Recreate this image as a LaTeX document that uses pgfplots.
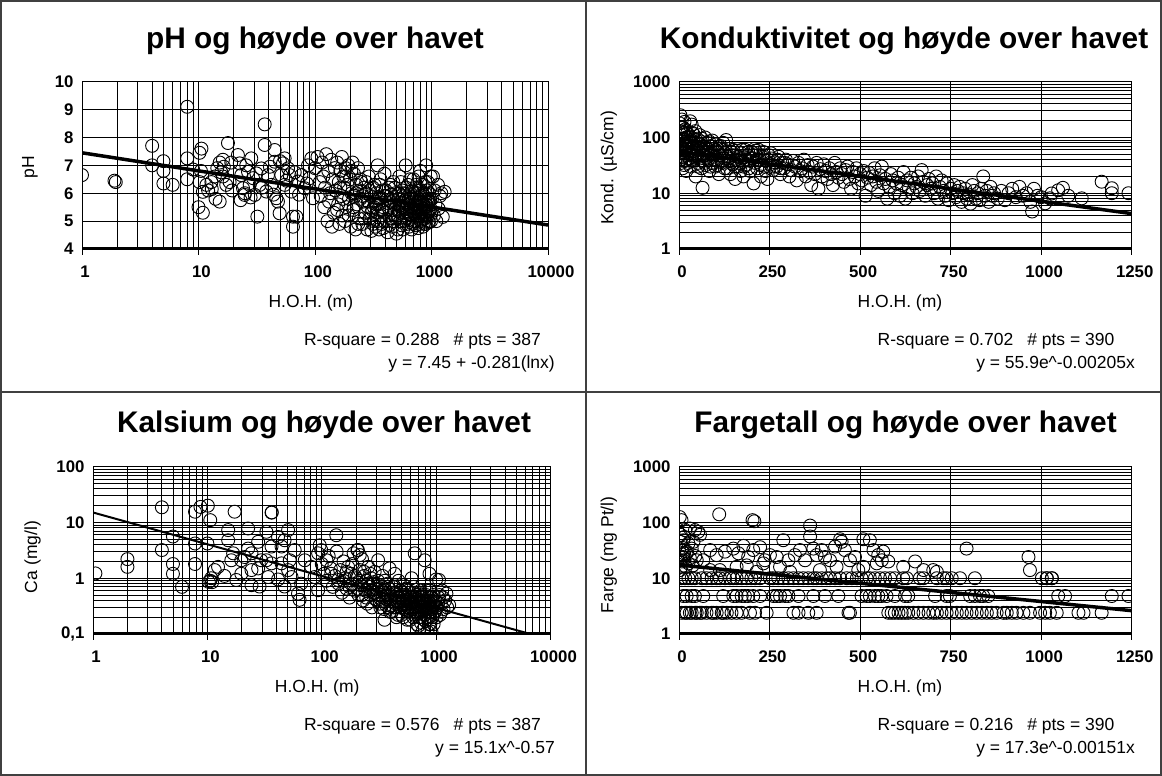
\documentclass[border=0pt]{standalone}
\usepackage{fontspec}
\setmainfont{Liberation Sans}
\usepackage{pgfplots}
\pgfplotsset{compat=1.18}
\newcommand{\tl}[1]{\mbox{\fontsize{16.8}{18}\fontseries{b}\selectfont #1}}

\pgfplotsset{
 panel/.style={
   scale only axis, anchor=south west,
   axis line style={black, line width=1pt},
   major grid style={black, line width=0.8pt},
   minor grid style={black, line width=0.8pt},
   tick pos=left, xtick align=outside,
   major tick length=6pt, minor tick length=0pt,
   xtick style={black, line width=1pt},
   ytick style={draw=none},
   xticklabel style={font=\fontsize{16.8}{18}\fontseries{b}\selectfont, yshift=-7pt, xshift=3pt},
   yticklabel style={font=\fontsize{16.8}{18}\fontseries{b}\selectfont, xshift=-5pt},
   label style={font=\fontsize{17.5}{20}\selectfont},
   xlabel style={anchor=center},
   ylabel style={anchor=center, rotate=0},
   clip marker paths=true,
 },
 dots/.style={only marks, mark=o, mark size=6.5pt, black, mark options={line width=0.9pt}},
 trend/.style={black, line width=3.5pt, no marks},
}
\newcommand{\titlefont}{\bfseries\fontsize{29.8}{34}\selectfont}
\newcommand{\txtfont}{\fontsize{17.5}{20}\selectfont}

\begin{document}
\begin{tikzpicture}
\useasboundingbox (0pt,0pt) rectangle (1162pt,776pt);
\fill[white] (0pt,0pt) rectangle (1162pt,776pt);

% ---------------- Panel 1: pH ----------------
\begin{axis}[panel, name=p1, at={(82pt,527pt)}, width=466pt, height=167.3pt,
  xmode=log, xmin=1, xmax=10000, ymin=4, ymax=10,
  xtick={1,10,100,1000,10000},
  xticklabels={\tl{1},\tl{10},\tl{100},\tl{1000},\tl{10000}},
  minor xtick={2,3,4,5,6,7,8,9,20,30,40,50,60,70,80,90,200,300,400,500,600,700,800,900,2000,3000,4000,5000,6000,7000,8000,9000},
  ytick={4,5,6,7,8,9,10},
  yticklabels={\tl{4},\tl{5},\tl{6},\tl{7},\tl{8},\tl{9},\tl{10}},
  xmajorgrids, xminorgrids, ymajorgrids,
  xlabel={H.O.H. (m)}, ylabel={pH},
  xlabel style={at={(axis description cs:0.491,-0.325)}},
  ylabel style={at={(axis description cs:-0.112,0.49)}, rotate=0},
]
\addplot[dots] coordinates {
(1,6.65)(1.9,6.45)(1.95,6.4)(4,7.7)(4,7.0)(5,7.15)(5,6.8)(5,6.35)(6,6.3)(8,9.1)(8,7.25)(8,6.5)(9,6.85)
(10.2,7.45)(10.6,7.6)(10.5,6.8)(10.2,6.4)(10,5.5)(10.9,5.3)(10.9,6.05)(11.7,6.3)(12.1,6.1)(12.9,6.4)(13.8,6.6)(14.5,6.9)(15.2,7.1)(15.7,6.75)(16.2,7.2)(16.2,6.6)(15.2,5.7)(17.3,6.3)(17.9,7.8)(18.5,6.4)(19.1,7.1)(19.4,6.1)(14,5.8)(16.5,6.95)(13,6.15)
(21.8,7.37)(22.6,7.07)(23.3,6.65)(24.1,6.18)(24.9,5.94)(25.7,7.0)(26.6,6.77)(27.5,6.3)(28.4,7.25)(29.4,6.54)(30.4,5.94)(31.4,6.71)(32,5.16)(33.5,6.3)(34.6,6.89)(37,8.47)(37,7.73)(38.2,6.06)(39.5,6.65)(42.2,6.3)(45.1,7.55)(45.1,7.13)(46.6,5.82)(48.1,5.7)(49.7,5.28)(51.4,6.65)(53.1,7.07)(54.9,7.25)(54.9,6.3)(58.7,6.89)(60.6,6.65)(62.6,6.06)(64.7,5.16)(64.7,4.8)(69.2,5.16)(71.5,6.42)(76.4,6.65)(81.5,6.18)(87.1,7.0)(90,6.54)(93,7.25)(96.1,5.82)(25,6.0)(28,5.85)(35,6.2)(41,6.95)(44,5.95)(50,7.15)(57,6.45)(67,6.75)(73,5.95)(85,6.35)(23,5.75)
(100,6.9)(105,7.3)(110,6.4)(112,5.9)(115,7.1)(118,6.6)(120,5.5)(122,6.2)(125,7.4)(128,5.0)(130,6.8)(132,5.7)(135,6.0)(138,7.2)(140,4.8)(142,6.5)(145,5.3)(148,6.9)
(150,6.1)(155,7.1)(158,5.6)(160,6.4)(162,4.9)(165,6.8)(168,5.9)(170,7.3)(172,5.2)(175,6.6)(178,6.2)(180,5.0)(183,6.9)(186,5.5)(190,6.3)(193,7.0)(196,5.8)(200,6.5)(203,4.8)(206,6.0)(210,7.1)(213,5.4)(216,6.7)(220,5.9)(223,4.7)(226,6.3)(230,5.6)(234,6.9)(238,5.1)(242,6.1)(246,5.8)
(250,6.4)(255,4.9)(260,5.7)(265,6.2)(270,5.3)(275,6.0)(280,4.7)(285,5.5)(290,6.6)(295,5.1)(300,5.9)(305,4.65)(310,5.4)(315,6.2)(320,5.0)(325,5.7)(330,4.8)(335,6.0)(340,5.3)(345,7.0)(350,5.6)(355,4.7)(360,6.3)(365,5.2)(370,5.8)(375,4.9)(380,6.1)(385,5.5)(390,5.0)(395,6.7)
(400,5.3)(410,5.9)(420,4.6)(430,6.2)(440,5.1)(450,5.7)(460,4.8)(470,6.4)(480,5.4)(490,6.0)(500,4.55)(510,5.2)(520,5.8)(530,6.6)(540,5.0)(550,5.5)(560,6.1)(570,4.7)(580,5.3)(590,5.9)(600,7.0)(610,5.1)(620,5.6)(630,6.3)(640,4.8)(650,5.4)(660,6.0)(670,5.2)(680,5.7)(690,4.9)
(700,6.5)(710,5.3)(720,5.8)(730,6.2)(740,5.0)(750,5.5)(760,6.0)(770,4.75)(780,5.2)(790,5.7)(800,6.8)(810,5.4)(820,5.9)(830,5.05)(840,6.3)(850,5.6)(860,4.9)(870,5.3)(880,6.0)(890,5.5)(900,7.0)(910,5.15)(920,5.8)(930,6.4)(940,5.35)(950,4.95)(960,5.7)(970,6.15)(980,5.45)(990,5.0)
(1010,5.8)(1030,6.6)(1050,5.2)(1064,6.1)(1080,5.6)(1100,5.0)(1137,6.3)(1150,5.45)(1180,5.9)(1214,6.0)(1250,5.15)(1297,6.05)
(320,5.5)(350,5.85)(380,5.4)(420,5.65)(450,5.95)(480,5.6)(520,5.35)(550,5.9)(580,5.65)(610,5.45)(640,5.8)(680,5.5)(720,5.6)(760,5.35)(800,5.75)(850,5.45)(900,5.6)(470,5.25)(530,5.55)(590,5.75)(650,5.25)(700,5.45)(750,5.85)(820,5.3)
(155,5.4)(165,6.2)(175,5.8)(185,6.6)(195,5.2)(205,6.8)(215,5.5)(225,6.0)(235,4.9)(245,6.5)(255,5.9)(265,5.1)(275,6.4)(285,5.7)(295,6.1)(305,5.3)(315,4.9)(325,6.3)(335,5.6)(345,5.0)(355,5.8)(365,6.5)(375,5.4)(385,4.75)(395,5.9)(405,6.1)(415,5.0)(425,5.5)(435,4.85)(445,6.3)(455,5.4)(465,5.0)(475,5.75)(485,6.2)(495,5.1)(505,5.6)(515,4.7)(525,6.0)(535,5.3)(545,6.4)(555,4.85)(565,5.5)(575,6.0)(585,5.0)(595,5.45)(605,6.2)(615,4.9)(625,5.3)(635,5.9)(645,5.05)(655,6.5)(665,5.55)(675,4.7)(685,6.1)(695,5.35)(705,5.0)(715,6.0)(725,5.25)(735,4.85)(745,6.3)(755,5.15)(765,5.7)(775,6.6)(785,4.9)(795,5.5)(805,6.1)(815,5.0)(825,5.65)(835,6.0)(845,4.8)(855,5.3)(865,5.9)(875,5.1)(885,6.4)(895,4.9)(905,5.6)(915,6.1)(925,5.2)(935,5.7)(945,5.0)(955,6.0)(965,5.35)(975,5.8)(985,6.6)(995,5.25)
};
\addplot[trend] coordinates {(1,7.45) (10000,4.86)};
\end{axis}
\draw[black, line width=3pt] (p1.south west) -- (p1.south east);

% ---------------- Panel 2: Konduktivitet ----------------
\begin{axis}[panel, name=p2, at={(679pt,527pt)}, width=452.7pt, height=167.3pt,
  ymode=log, xmin=0, xmax=1250, ymin=1, ymax=1000,
  xtick={0,250,500,750,1000,1250},
  xticklabels={\tl{0},\tl{250},\tl{500},\tl{750},\tl{1000},\tl{1250}},
  ytick={1,10,100,1000},
  yticklabels={\tl{1},\tl{10},\tl{100},\tl{1000}},
  minor ytick={2,3,4,5,6,7,8,9,20,30,40,50,60,70,80,90,200,300,400,500,600,700,800,900},
  xmajorgrids, ymajorgrids, yminorgrids,
  xlabel={H.O.H. (m)}, ylabel={Kond. (µS/cm)},
  xlabel style={at={(axis description cs:0.488,-0.325)}},
  ylabel style={at={(axis description cs:-0.155,0.485)}, rotate=0},
]
\addplot[dots] coordinates {
(0,60)(1,180)(2,95)(3,40)(4,250)(5,130)(5,70)(6,35)(7,110)(8,55)(8,210)(9,85)(10,28)(10,150)(11,65)(12,45)(12,120)(13,95)(14,32)(15,75)(15,190)(16,52)(17,140)(18,40)(19,100)(20,62)(20,25)(21,85)(22,48)(23,120)(24,35)(25,70)(26,55)(27,105)(28,42)(29,80)(30,60)(31,195)(32,30)(33,90)(34,50)(35,170)(36,68)(38,38)(40,115)(41,58)(42,80)(44,45)(45,130)(46,20)(48,65)(50,95)(52,35)(54,75)(55,52)(57,110)(58,42)(60,85)(62,28)(64,60)(65,12.5)(66,38)(68,70)(70,48)(72,100)(74,32)(76,55)(78,80)(80,40)(82,60)(84,25)(86,70)(88,50)(90,35)(92,88)(95,45)(97,62)(100,30)(102,75)(105,40)(108,55)(110,22)(112,68)(115,48)(118,35)(120,60)(122,80)(125,42)(128,52)(130,90)(132,28)(135,45)(138,62)(140,38)(142,22)(145,55)(148,33)(150,48)(155,18)(158,40)(160,58)(163,30)(166,45)(170,25)(172,52)(175,36)(178,20)(180,44)(183,60)(186,32)(190,48)(193,28)(196,38)(200,55)(203,42)(206,15)(208,62)(210,35)(213,50)(216,28)(220,60)(223,40)(226,20)(230,45)(233,55)(236,30)(240,38)(244,18)(248,48)(252,33)(256,42)(260,26)(265,36)(270,30)(275,45)(280,22)(285,35)(290,28)(295,40)(300,33)(305,20)(310,26)(315,38)(320,30)(325,17)(330,35)(335,25)(340,28)(345,40)(350,20)(355,32)(360,24)(365,14)(370,30)(375,22)(380,35)(385,12)(390,27)(395,20)(400,33)(405,25)(410,18)(415,28)(420,22)(425,14)(430,35)(435,24)(440,19)(445,28)(450,22)(455,16)(460,26)(465,30)(470,18)(475,12)(480,24)(485,20)(490,28)(495,15)(500,22)(505,17)(510,25)(515,9)(520,19)(525,23)(530,14)(535,20)(540,28)(545,16)(550,11)(555,21)(560,30)(565,15)(570,18)(575,8)(580,13)(585,22)(590,17)(595,10)(600,15)(605,19)(610,9)(615,14)(620,24)(625,8)(630,17)(635,12)(640,19)(645,10)(650,15)(655,13)(660,20)(665,11)(670,26)(675,16)(680,9)(685,14)(690,18)(695,12)(700,15)(705,10)(710,20)(715,8)(720,13)(725,17)(730,11)(735,9)(740,15)(745,7.5)(750,12)(755,10)(760,14)(765,8.5)(770,11)(775,13)(780,7)(785,10)(790,12)(795,8)(800,9.5)(805,6.5)(810,14)(815,11)(820,8)(825,10)(830,7.5)(835,12)(840,20)(845,9)(850,11)(855,7)(860,13)(865,9)(870,10)(880,8)(890,11)(900,7.5)(910,10)(920,12)(930,8.5)(940,13)(950,9)(960,10)(970,7)(975,4.7)(980,12)(990,9)(1000,8.5)(1011,6.6)(1024,8.1)(1029,9.9)(1047,11.3)(1060,12.5)(1075,9)(1112,8.1)(1167,16.1)(1195,12.3)(1195,10)(1241,10)
(3,75)(6,150)(9,45)(11,90)(14,60)(17,38)(19,130)(22,70)(25,100)(28,55)(31,85)(34,40)(37,120)(40,65)(43,48)(47,90)(51,60)(53,30)(56,45)(59,65)(63,95)(67,50)(71,35)(75,65)(79,45)(83,85)(87,30)(91,55)(96,40)(101,60)(106,32)(111,48)(116,70)(121,38)(126,28)(131,55)(137,42)(143,35)(149,60)(154,30)(161,45)(167,35)(173,60)(179,30)(185,40)(191,55)(197,25)(204,48)(211,58)(218,40)(225,32)(232,48)(239,25)(246,40)(254,52)(262,30)(272,40)(282,28)(292,35)
};
\addplot[trend] coordinates {(0,55.9) (1250,4.31)};
\end{axis}
\draw[black, line width=3pt] (p2.south west) -- (p2.south east);

% ---------------- Panel 3: Kalsium ----------------
\begin{axis}[panel, name=p3, at={(93pt,142pt)}, width=457.5pt, height=167.3pt,
  xmode=log, ymode=log, xmin=1, xmax=10000, ymin=0.1, ymax=100,
  xtick={1,10,100,1000,10000},
  xticklabels={\tl{1},\tl{10},\tl{100},\tl{1000},\tl{10000}},
  minor xtick={2,3,4,5,6,7,8,9,20,30,40,50,60,70,80,90,200,300,400,500,600,700,800,900,2000,3000,4000,5000,6000,7000,8000,9000},
  ytick={0.1,1,10,100},
  yticklabels={\tl{0,1},\tl{1},\tl{10},\tl{100}},
  minor ytick={0.2,0.3,0.4,0.5,0.6,0.7,0.8,0.9,2,3,4,5,6,7,8,9,20,30,40,50,60,70,80,90},
  xmajorgrids, xminorgrids, ymajorgrids, yminorgrids,
  xlabel={H.O.H. (m)}, ylabel={Ca (mg/l)},
  xlabel style={at={(axis description cs:0.49,-0.325)}},
  ylabel style={at={(axis description cs:-0.132,0.46)}, rotate=0},
]
\addplot[dots] coordinates {
(1.05,1.22)(2,2.2)(2,1.6)(4,18.7)(4,3.2)(5,5.6)(5,1.8)(5,1.2)(6,0.7)(7.8,15.6)(7.8,4.2)(7.8,1.8)(8.7,19)(10.1,20)(10.6,11)(10,4.2)(10.3,0.86)(10.6,0.9)(11,0.85)
(15.2,7.3)(15.2,4.8)(17.3,15.6)(16.2,2.1)(22.7,7.8)(22.7,3.4)(24.3,2.8)(27.8,4.5)(27.8,1.5)(32.8,6.8)(32.8,2.1)(36.4,15)(36.6,15.2)(41.5,5.5)(44.5,3.7)(47.3,4.8)(50.8,7.3)(52.5,2.1)(58,3.2)(62,0.53)(64,0.41)(66,0.8)(50.8,1.4)(41.5,0.95)(36.4,1.85)(28.6,0.71)(24.3,0.75)(19.8,1.2)(17.9,0.93)(14.1,1.1)(12.4,1.6)(10.8,1.0)(11.6,1.4)(16.8,2.8)(19.8,2.1)(24.3,1.4)(29.6,2.1)(36.4,3.7)(44.5,1.85)(54.5,1.05)(71,2.1)(81,1.6)(93,2.8)(86.6,1.05)(93,0.61)(47.3,0.71)(34,1.05)(21.2,2.4)(134,5.9)(96,3.9)(99,3.2)(110,2.1)(121,1.2)(139,0.93)
(100,1.8)(105,1.2)(110,0.9)(115,2.5)(120,1.5)(125,0.7)(130,1.1)(135,3.0)(140,0.8)(145,1.4)(150,0.55)(155,2.0)(160,1.0)(165,0.65)(170,1.6)(175,0.45)(180,1.2)(185,0.8)(190,2.8)(195,0.6)(200,1.0)(205,3.2)(210,0.5)(215,1.4)(220,0.75)(225,2.2)(230,0.4)(235,1.1)(240,0.6)(245,0.9)(250,0.35)(255,1.6)(260,0.7)(265,0.5)(270,1.0)(275,0.3)(280,0.8)(285,0.55)(290,1.3)(295,0.42)(300,0.65)(310,0.9)(320,0.35)(330,0.5)(340,1.1)(350,0.28)(354,0.18)(360,0.6)(370,0.42)(380,0.8)(390,0.3)(400,0.5)(410,0.25)(420,0.7)(430,0.38)(440,0.55)(450,0.2)(460,0.45)(470,0.9)(480,0.3)(490,0.6)(500,0.22)(510,0.4)(520,0.75)(530,0.28)(540,0.5)(550,0.35)(560,0.18)(570,0.6)(580,0.3)(590,0.45)(600,0.25)(610,1.0)(620,0.38)(630,0.2)(640,0.55)(650,2.8)(660,0.3)(670,0.42)(680,0.15)(690,0.5)(700,0.14)(710,0.35)(720,0.25)(730,0.6)(740,0.2)(750,0.45)(760,0.3)(770,0.12)(780,0.4)(790,0.22)(795,2.1)(800,0.35)(810,0.17)(820,0.5)(830,0.28)(840,0.11)(850,0.4)(860,0.2)(870,0.3)(880,0.6)(890,0.15)(900,0.25)(910,0.11)(920,0.45)(930,0.2)(940,0.3)(950,0.15)(960,0.38)(980,0.25)(1000,0.95)(1020,0.3)(1050,0.45)(1080,0.22)(1100,0.35)(1130,0.6)(1160,0.28)(1200,0.4)(1250,0.3)(1300,0.33)
(320,0.45)(360,0.38)(400,0.32)(440,0.4)(480,0.45)(520,0.33)(560,0.42)(600,0.36)(640,0.3)(680,0.38)(720,0.4)(760,0.36)(800,0.27)(840,0.33)(880,0.36)(920,0.28)(350,0.55)(450,0.3)(550,0.27)(650,0.45)(750,0.25)(850,0.26)
(207,3.2)(215,2.6)(311,2.1)(392,1.5)(435,1.2)(875,1.2)(1060,0.93)(1230,0.53)
(155,0.9)(165,1.3)(175,0.7)(185,1.8)(195,1.1)(205,0.65)(215,0.9)(225,0.5)(235,1.3)(245,0.45)(255,0.8)(265,1.2)(275,0.6)(285,0.85)(295,0.55)(305,0.4)(315,0.75)(325,0.3)(335,0.6)(345,0.45)(355,0.9)(365,0.33)(375,0.5)(385,0.65)(395,0.25)(405,0.42)(415,0.55)(425,0.3)(435,0.7)(445,0.35)(455,0.5)(465,0.22)(475,0.4)(485,0.6)(495,0.3)(505,0.5)(515,0.2)(525,0.45)(535,0.35)(545,0.65)(555,0.25)(565,0.4)(575,0.3)(585,0.55)(595,0.18)(605,0.35)(615,0.45)(625,0.28)(635,0.7)(645,0.22)(655,0.38)(665,0.5)(675,0.25)(685,0.3)(695,0.42)(705,0.2)(715,0.55)(725,0.3)(735,0.16)(745,0.38)(755,0.25)(765,0.5)(775,0.3)(785,0.18)(805,0.4)(815,0.25)(825,0.6)(835,0.2)(845,0.3)(855,0.45)(865,0.15)(875,0.35)(885,0.25)(895,0.4)(905,0.3)(925,0.2)(945,0.5)(965,0.25)(985,0.4)(1010,0.2)(1040,0.35)(1070,0.5)(1110,0.25)(1150,0.45)
};
\addplot[black, line width=2pt, no marks] coordinates {(1,15.1) (6650,0.1)};
\end{axis}
\draw[black, line width=3pt] (p3.south west) -- (p3.south east);

% ---------------- Panel 4: Fargetall ----------------
\begin{axis}[panel, name=p4, at={(679pt,142pt)}, width=452.7pt, height=167.3pt,
  ymode=log, xmin=0, xmax=1250, ymin=1, ymax=1000,
  xtick={0,250,500,750,1000,1250},
  xticklabels={\tl{0},\tl{250},\tl{500},\tl{750},\tl{1000},\tl{1250}},
  ytick={1,10,100,1000},
  yticklabels={\tl{1},\tl{10},\tl{100},\tl{1000}},
  minor ytick={2,3,4,5,6,7,8,9,20,30,40,50,60,70,80,90,200,300,400,500,600,700,800,900},
  xmajorgrids, ymajorgrids, yminorgrids,
  xlabel={H.O.H. (m)}, ylabel={Farge (mg Pt/l)},
  xlabel style={at={(axis description cs:0.488,-0.325)}},
  ylabel style={at={(axis description cs:-0.155,0.473)}, rotate=0},
]
\addplot[dots] coordinates {
(7.4,2.4)(17,2.4)(21,2.4)(30,2.4)(35,2.4)(45,2.4)(49,2.4)(58,2.4)(63,2.4)(76,2.4)(90,2.4)(95,2.4)(104,2.4)(118,2.4)(122,2.4)(132,2.4)(145,2.4)(159,2.4)(173,2.4)(196,2.4)(210,2.4)(242,2.4)(316,2.4)(330,2.4)(357,2.4)(380,2.4)(468,2.4)(472,2.4)(578,2.4)(587,2.4)(596,2.4)(606,2.4)(615,2.4)(624,2.4)(633,2.4)(647,2.4)(661,2.4)(675,2.4)(689,2.4)(702,2.4)(712,2.4)(725,2.4)(739,2.4)(753,2.4)(767,2.4)(781,2.4)(794,2.4)(808,2.4)(822,2.4)(836,2.4)(850,2.4)(863,2.4)(877,2.4)(896,2.4)(905,2.4)(919,2.4)(932,2.4)(951,2.4)(969,2.4)(997,2.4)(1011,2.4)(1024,2.4)(1043,2.4)(1103,2.4)(1117,2.4)(1167,2.4)
(12,4.8)(21,4.8)(35,4.8)(44,4.8)(67,4.8)(122,4.8)(150,4.8)(159,4.8)(173,4.8)(182,4.8)(191,4.8)(205,4.8)(224,4.8)(261,4.8)(270,4.8)(279,4.8)(293,4.8)(302,4.8)(330,4.8)(371,4.8)(403,4.8)(440,4.8)(504,4.8)(518,4.8)(527,4.8)(541,4.8)(550,4.8)(559,4.8)(573,4.8)(596,4.8)(624,4.8)(633,4.8)(707,4.8)(739,4.8)(748,4.8)(804,4.8)(817,4.8)(831,4.8)(840,4.8)(854,4.8)(1047,4.8)(1066,4.8)(1195,4.8)(1241,4.8)
(7,10)(17,10)(26,10)(35,10)(44,10)(63,10)(76,10)(90,10)(104,10)(113,10)(127,10)(141,10)(150,10)(159,10)(173,10)(187,10)(200,10)(210,10)(224,10)(251,10)(260,10)(274,10)(288,10)(302,10)(316,10)(330,10)(343,10)(357,10)(371,10)(380,10)(394,10)(408,10)(417,10)(431,10)(445,10)(463,10)(477,10)(491,10)(504,10)(518,10)(527,10)(541,10)(555,10)(569,10)(583,10)(596,10)(619,10)(629,10)(665,10)(675,10)(712,10)(730,10)(739,10)(753,10)(776,10)(817,10)(1002,10)(1016,10)(1030,10)
(7,110)(17,73)(30,78)(44,73)(53,68)(58,60)(12,48)(26,42)(40,45)(7,32)(21,28)(35,34)(12,21)(30,23)(49,21)(7,16)(26,18.5)(12,24)(67,21)(3,45)(3,24)(3,14)(19,16)(5,60)(10,35)(15,55)(22,30)(2,125)(8,20)(14,28)(38,17)(45,25)
(111,140)(203,110)(208,105)
(86,32)(104,26)(127,30)(150,34)(164,28)(178,38)(191,24)(205,32)(224,36)(237,21)(251,26)(270,24)(288,48)(302,21)(320,26)(334,32)(348,21)(362,88)(362,56)(371,34)(380,26)(394,32)(403,24)(417,21)(431,37)(445,50)(449,45)(458,32)(472,21)(486,24)(495,14)(509,50)(527,48)(537,32)(550,26)(560,21)(546,18.5)(564,30)(578,20)(619,16)(652,20)(675,14)(702,14)(712,13)(794,34)(965,24)(969,14)(1015,10)(1029,10)
(113,14)(159,16)(214,13)(279,16)(307,13)(389,14)(435,16)(509,16)(86,14)(187,17)(233,18.5)
};
\addplot[trend] coordinates {(0,17.3) (1250,2.62)};
\end{axis}
\draw[black, line width=3pt] (p4.south west) -- (p4.south east);

% ---------------- Titles and statistics ----------------
\node[font=\titlefont] at (315pt,735.2pt) {pH og høyde over havet};
\node[font=\titlefont] at (904pt,735.2pt) {Konduktivitet og høyde over havet};
\node[font=\titlefont] at (324pt,351pt) {Kalsium og høyde over havet};
\node[font=\titlefont] at (905.6pt,351pt) {Fargetall og høyde over havet};

\node[font=\txtfont, anchor=base east, inner sep=0pt] at (541pt,430pt) {R-square = 0.288\hspace{14pt}\# pts = 387};
\node[font=\txtfont, anchor=base east, inner sep=0pt] at (555pt,407pt) {y = 7.45 + -0.281(lnx)};
\node[font=\txtfont, anchor=base east, inner sep=0pt] at (1114.6pt,430pt) {R-square = 0.702\hspace{14pt}\# pts = 390};
\node[font=\txtfont, anchor=base east, inner sep=0pt] at (1135pt,407pt) {y = 55.9e\^{}-0.00205x};
\node[font=\txtfont, anchor=base east, inner sep=0pt] at (541pt,45pt) {R-square = 0.576\hspace{14pt}\# pts = 387};
\node[font=\txtfont, anchor=base east, inner sep=0pt] at (555pt,22pt) {y = 15.1x\^{}-0.57};
\node[font=\txtfont, anchor=base east, inner sep=0pt] at (1114.6pt,45pt) {R-square = 0.216\hspace{14pt}\# pts = 390};
\node[font=\txtfont, anchor=base east, inner sep=0pt] at (1135pt,22pt) {y = 17.3e\^{}-0.00151x};

% ---------------- Frame ----------------
\draw[black!75, line width=1.5pt] (1pt,1pt) rectangle (1161pt,775pt);
\draw[black!75, line width=1.5pt] (586pt,1pt) -- (586pt,775pt);
\draw[black!75, line width=1.5pt] (1pt,384pt) -- (1161pt,384pt);
\end{tikzpicture}
\end{document}
